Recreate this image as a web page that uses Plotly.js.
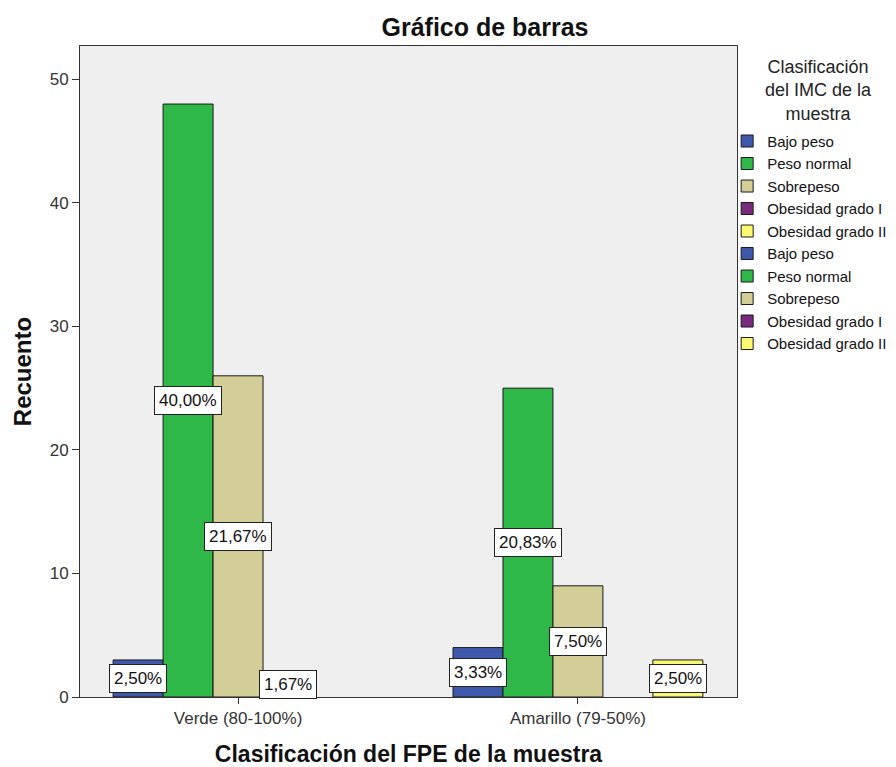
<!DOCTYPE html>
<html>
<head>
<meta charset="utf-8">
<script src="https://cdn.plot.ly/plotly-3.0.1.min.js"></script>
<style>
  body { margin: 0; background: #fff; }
  #chart { width: 896px; height: 767px; }
</style>
</head>
<body>
<div id="chart"></div>
<script>
  // FPE groups (x axis)
  const categories = ['Verde (80-100%)', 'Amarillo (79-50%)'];

  // IMC classes (series) and their counts per FPE group
  const imcClasses = ['Bajo peso', 'Peso normal', 'Sobrepeso', 'Obesidad grado I', 'Obesidad grado II'];
  const bajoPeso = [3, 4];
  const pesoNormal = [48, 25];
  const sobrepeso = [26, 9];
  const obesidadI = [2, 0];
  const obesidadII = [0, 3];

  const colors = ['#3e58ac', '#2eb848', '#d3ce97', '#7a2a7e', '#fbf873'];
  const yTicks = [0, 10, 20, 30, 40, 50];
  const legendTitle = 'Clasificación<br>del IMC de la<br>muestra';

  const series = [bajoPeso, pesoNormal, sobrepeso, obesidadI, obesidadII];
  const total = series.flat().reduce((a, b) => a + b, 0);
  const font = 'Liberation Sans, Arial, sans-serif';
  const bargap = 0.265;
  const barW = (1 - bargap) / series.length;

  const pct = v => (v / total * 100).toFixed(2).replace('.', ',') + '%';

  const traces = series.map((vals, i) => ({
    type: 'bar',
    name: imcClasses[i],
    x: categories,
    y: vals.map(v => v === 0 ? null : v),
    marker: { color: colors[i], line: { color: '#1a1a1a', width: 1 } },
    hoverinfo: 'x+y+name'
  }));

  // SPSS repeats the legend block once more
  const dupes = imcClasses.map((name, i) => ({
    type: 'bar',
    name: name,
    x: [0],
    y: [1],
    xaxis: 'x2',
    yaxis: 'y2',
    marker: { color: colors[i], line: { color: '#1a1a1a', width: 1 } },
    hoverinfo: 'skip'
  }));

  // percentage boxes in the middle of each bar
  const annotations = [];
  series.forEach((vals, i) => {
    vals.forEach((v, g) => {
      if (!v) return;
      annotations.push({
        x: g + (i - (series.length - 1) / 2) * barW,
        y: v / 2,
        xref: 'x', yref: 'y', text: pct(v), showarrow: false,
        font: { family: font, size: 17, color: '#111' },
        bgcolor: '#ffffff', borderpad: 4, borderwidth: 1, bordercolor: '#222'
      });
    });
  });

  // legend heading, centred over the legend like SPSS does
  annotations.push({
    x: 1.1233, y: 0.9309, xref: 'paper', yref: 'paper',
    xanchor: 'center', yanchor: 'middle', align: 'center',
    text: legendTitle, showarrow: false,
    font: { family: font, size: 18, color: '#222' }
  });

  const layout = {
    width: 896,
    height: 767,
    margin: { l: 80, r: 159, t: 46, b: 70, autoexpand: false },
    paper_bgcolor: '#ffffff',
    plot_bgcolor: '#efefef',
    font: { family: font, color: '#222' },
    barmode: 'group',
    bargap: bargap,
    bargroupgap: 0,
    showlegend: true,
    title: {
      text: '<b>Gráfico de barras</b>',
      font: { family: font, size: 25, color: '#111' },
      x: 0.5413, xref: 'container', xanchor: 'center',
      y: 0.965, yref: 'container', yanchor: 'middle'
    },
    xaxis: {
      type: 'category',
      range: [-0.465, 1.468],
      showline: true, linecolor: '#333', linewidth: 1, mirror: true,
      ticks: 'outside', ticklen: 6, tickcolor: '#333',
      showgrid: false, zeroline: false,
      tickfont: { family: font, size: 17, color: '#333' },
      title: {
        text: '<b>Clasificación del FPE de la muestra</b>',
        font: { family: font, size: 23, color: '#111' },
        standoff: 20
      }
    },
    yaxis: {
      range: [0, 52.7],
      tickvals: yTicks,
      showline: true, linecolor: '#333', linewidth: 1, mirror: true,
      ticks: 'outside', ticklen: 7, tickcolor: '#333',
      showgrid: false, zeroline: false,
      tickfont: { family: font, size: 17, color: '#333' },
      title: {
        text: '<b>Recuento</b>',
        font: { family: font, size: 24, color: '#111' },
        standoff: 11
      }
    },
    xaxis2: { domain: [0, 0.01], range: [10, 11], visible: false, anchor: 'y2' },
    yaxis2: { domain: [0, 0.01], range: [10, 11], visible: false, anchor: 'x2' },
    legend: {
      x: 0.985, xref: 'paper', xanchor: 'left',
      y: 0.879, yref: 'paper', yanchor: 'top',
      bgcolor: 'rgba(0,0,0,0)',
      font: { family: font, size: 15, color: '#111' },
      traceorder: 'normal',
      itemclick: false, itemdoubleclick: false
    },
    annotations: annotations
  };

  Plotly.newPlot('chart', traces.concat(dupes), layout, { displayModeBar: false, staticPlot: true });
</script>
</body>
</html>
